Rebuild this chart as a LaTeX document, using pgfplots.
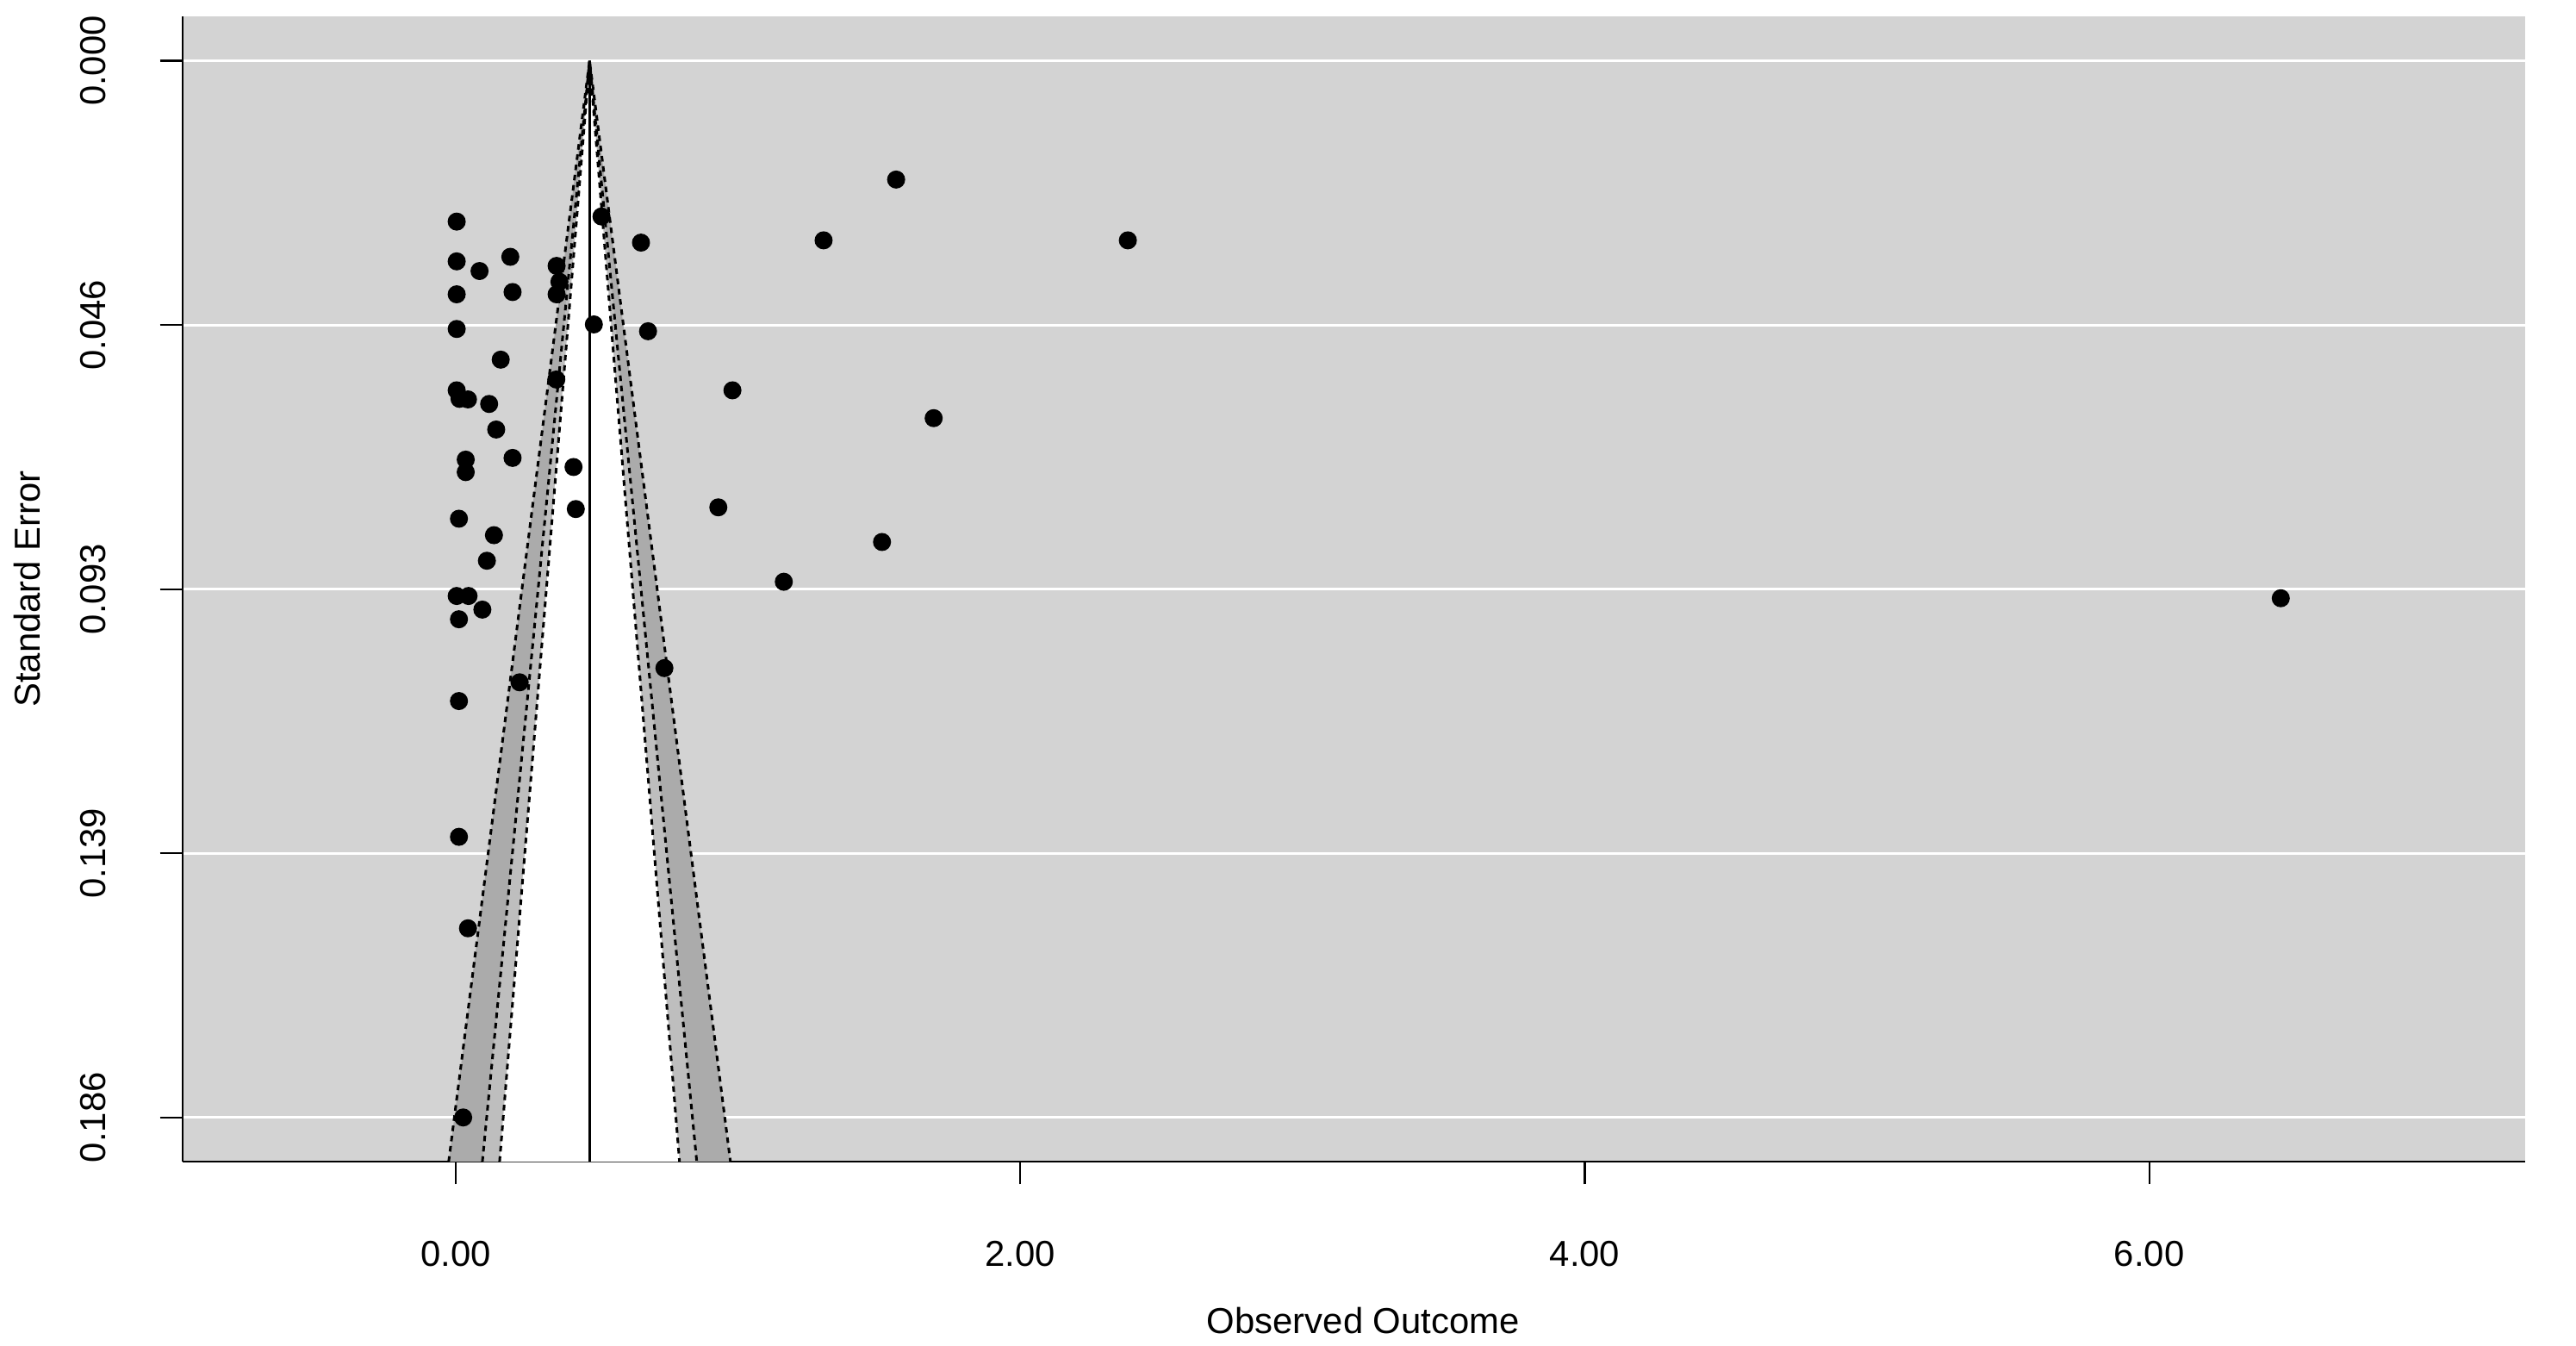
\documentclass[border=0pt]{standalone}
\usepackage{pgfplots}
\pgfplotsset{compat=1.18}
\usepackage{fontspec}
\setmainfont{Liberation Sans}
\definecolor{bggray}{HTML}{D3D3D3}
\definecolor{band99}{HTML}{ABABAB}
\definecolor{band95}{HTML}{BEBEBE}

\begin{document}
\begin{tikzpicture}
\begin{axis}[
  set layers=standard,
  width=545.6pt, height=266.7pt, scale only axis,
  xmin=-0.968, xmax=7.332,
  ymin=-0.00783, ymax=0.19378,
  y dir=reverse,
  axis x line*=bottom, axis y line*=left,
  axis line style={line width=0.55pt, -, on layer=axis foreground},
  tick align=outside, major tick length=5.3pt,
  tick style={black, line width=0.45pt},
  xtick={0,2,4,6}, xticklabels={0.00,2.00,4.00,6.00},
  ytick={0,0.0465,0.093,0.1395,0.186},
  yticklabels={0.000,0.046,0.093,0.139,0.186},
  ymajorgrids, grid style={white, line width=0.6pt},
  axis background/.style={fill=bggray},
  font=\fontsize{8.4}{10}\selectfont,
  xticklabel style={anchor=center, yshift=-16.1pt},
  yticklabel style={xshift=-15.5pt, rotate=90, anchor=center},
  xlabel={Observed Outcome}, ylabel={Standard Error},
  xlabel style={at={(axis description cs:0.504,-0.139)}, anchor=center},
  ylabel style={at={(axis description cs:-0.0662,0.5)}, anchor=center},
  clip=true,
]
% funnel regions (99, 95, 90 %)
\addplot[fill=band99, draw=none] coordinates {(-0.0254,0.1938) (0.4738,0) (0.9730,0.1938)} -- cycle;
\addplot[fill=band95, draw=none] coordinates {(0.0940,0.1938) (0.4738,0) (0.8536,0.1938)} -- cycle;
\addplot[fill=white, draw=none] coordinates {(0.1550,0.1938) (0.4738,0) (0.7926,0.1938)} -- cycle;
\addplot[black, line width=0.6pt, dash pattern=on 1.3pt off 1.1pt] coordinates {(-0.0254,0.1938) (0.4738,0) (0.9730,0.1938)};
\addplot[black, line width=0.6pt, dash pattern=on 1.3pt off 1.1pt] coordinates {(0.0940,0.1938) (0.4738,0) (0.8536,0.1938)};
\addplot[black, line width=0.6pt, dash pattern=on 1.3pt off 1.1pt] coordinates {(0.1550,0.1938) (0.4738,0) (0.7926,0.1938)};
\addplot[black, line width=0.5pt] coordinates {(0.4738,0) (0.4738,0.1938)};
% studies
\addplot[only marks, mark=*, mark size=1.9pt, black] table {
x se
0.003 0.0283
0.003 0.0353
0.084 0.0370
0.193 0.0345
0.003 0.0411
0.201 0.0407
0.357 0.0361
0.367 0.0389
0.357 0.0411
0.516 0.0274
0.656 0.0320
0.003 0.0472
0.489 0.0464
0.681 0.0476
0.159 0.0526
0.003 0.0580
0.013 0.0595
0.043 0.0596
0.118 0.0604
0.356 0.0561
0.980 0.0580
0.143 0.0649
0.035 0.0702
0.035 0.0724
0.201 0.0699
0.417 0.0715
0.425 0.0789
0.011 0.0806
0.135 0.0835
0.110 0.0880
0.003 0.0942
0.045 0.0942
0.094 0.0966
0.011 0.0983
0.226 0.1094
0.739 0.1069
0.011 0.1127
0.011 0.1366
0.043 0.1527
0.026 0.1860
1.560 0.0209
1.303 0.0316
2.381 0.0316
0.930 0.0786
1.693 0.0629
1.510 0.0847
1.162 0.0917
6.466 0.0946
};
\coordinate (bl) at (axis description cs:0,0);
\coordinate (tr) at (axis description cs:1,1);
\end{axis}
\pgfresetboundingbox
\path[use as bounding box] ([shift={(-42.54pt,-42.75pt)}]bl) rectangle ([shift={(11.84pt,3.81pt)}]tr);
\end{tikzpicture}
\end{document}
